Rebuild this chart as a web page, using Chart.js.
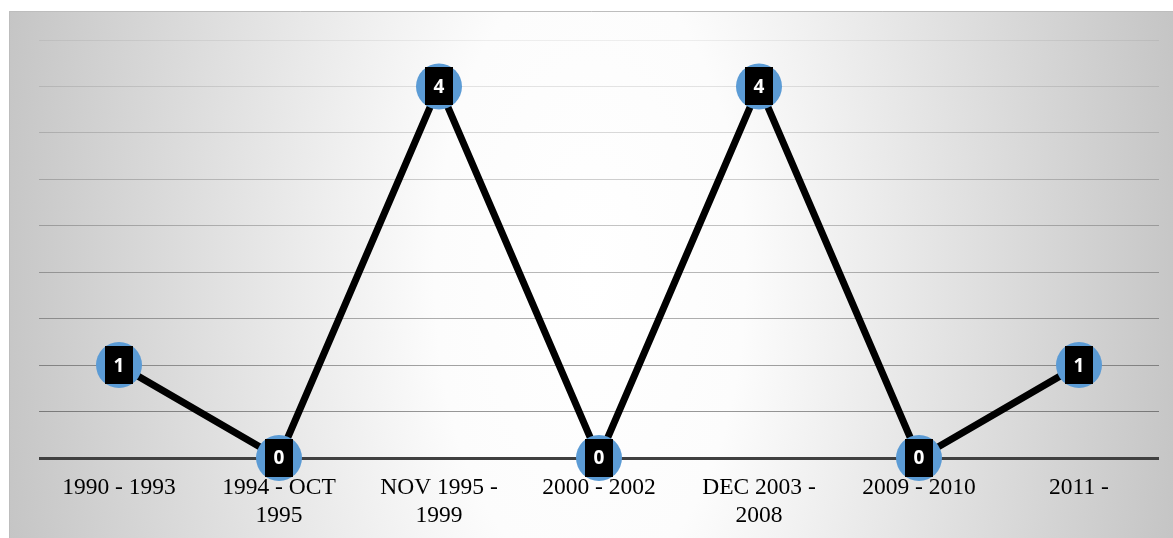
<!DOCTYPE html>
<html>
<head>
<meta charset="utf-8">
<script src="https://cdn.jsdelivr.net/npm/chart.js@4/dist/chart.umd.min.js"></script>
<style>
  html, body { margin: 0; padding: 0; background: #ffffff; }
  #wrap { width: 1173px; height: 538px; position: relative; }
</style>
</head>
<body>
<div id="wrap"><canvas id="c" width="1173" height="538"></canvas></div>
<script>
const categories = [
  '1990 - 1993',
  ['1994 - OCT', '1995'],
  ['NOV 1995 -', '1999'],
  '2000 - 2002',
  ['DEC 2003 -', '2008'],
  '2009 - 2010',
  '2011 -'
];
const counts = [1, 0, 4, 0, 4, 0, 1];
const yMin = 0;
const yMax = 4.5;
const yStep = 0.5;

const bgPlugin = {
  id: 'bg',
  beforeDraw(chart) {
    const ctx = chart.ctx;
    const x0 = 9, y0 = 11, x1 = chart.width, y1 = chart.height;
    ctx.save();
    ctx.translate(590, 275);
    ctx.scale(1, 2);
    const g = ctx.createRadialGradient(0, 0, 0, 0, 0, 620);
    g.addColorStop(0, '#ffffff');
    g.addColorStop(0.25, '#fcfcfc');
    g.addColorStop(1, '#c2c2c2');
    ctx.fillStyle = g;
    ctx.fillRect(x0 - 590, (y0 - 275) / 2, x1 - x0, (y1 - y0) / 2);
    ctx.restore();
    ctx.save();
    ctx.strokeStyle = '#bdbdbd';
    ctx.lineWidth = 1;
    ctx.beginPath();
    ctx.moveTo(x0 + 0.5, y1);
    ctx.lineTo(x0 + 0.5, y0 + 0.5);
    ctx.lineTo(x1, y0 + 0.5);
    ctx.stroke();
    ctx.restore();
  }
};

const labelPlugin = {
  id: 'boxlabels',
  afterDatasetsDraw(chart) {
    const ctx = chart.ctx;
    const meta = chart.getDatasetMeta(0);
    ctx.save();
    ctx.font = 'bold 19px "Open Sans", "Liberation Sans", sans-serif';
    ctx.textAlign = 'center';
    ctx.textBaseline = 'middle';
    meta.data.forEach((pt, i) => {
      const txt = String(chart.data.datasets[0].data[i]);
      const w = ctx.measureText(txt).width + 17;
      const h = 38;
      ctx.fillStyle = '#000000';
      ctx.fillRect(Math.round(pt.x - w / 2), Math.round(pt.y - h / 2), Math.round(w), h);
      ctx.fillStyle = '#ffffff';
      ctx.fillText(txt, pt.x, pt.y + 1);
    });
    ctx.restore();
  }
};

new Chart(document.getElementById('c'), {
  type: 'line',
  data: {
    labels: categories,
    datasets: [{
      data: counts,
      borderColor: '#000000',
      borderWidth: 7,
      tension: 0,
      pointRadius: 23,
      pointHoverRadius: 23,
      pointBackgroundColor: '#5b9bd5',
      pointBorderWidth: 0,
      clip: false
    }]
  },
  options: {
    responsive: false,
    animation: false,
    events: [],
    layout: { autoPadding: false, padding: { left: 39, right: 14, top: 40, bottom: 0 } },
    plugins: { legend: { display: false }, tooltip: { enabled: false } },
    scales: {
      x: {
        offset: true,
        grid: { display: false, drawTicks: false },
        border: { display: false },
        ticks: {
          color: '#000000',
          padding: 16,
          maxRotation: 0,
          autoSkip: false,
          font: { family: '"Liberation Serif", "Times New Roman", serif', size: 23.5, lineHeight: 1.2 }
        },
        afterFit(scale) {
          scale.height = 80;
          scale.paddingLeft = 0;
          scale.paddingRight = 0;
        }
      },
      y: {
        min: yMin,
        max: yMax,
        border: { display: false },
        grid: {
          drawTicks: false,
          color(c) {
            const v = c.tick.value;
            if (v === 0) return '#404040';
            const a = 0.06 + (yMax - v) / (yMax - yStep) * 0.34;
            return 'rgba(0,0,0,' + a.toFixed(3) + ')';
          },
          lineWidth(c) { return c.tick.value === 0 ? 3 : 1; }
        },
        ticks: { display: false, stepSize: yStep },
        afterFit(scale) { scale.width = 0; }
      }
    }
  },
  plugins: [bgPlugin, labelPlugin]
});
</script>
</body>
</html>
